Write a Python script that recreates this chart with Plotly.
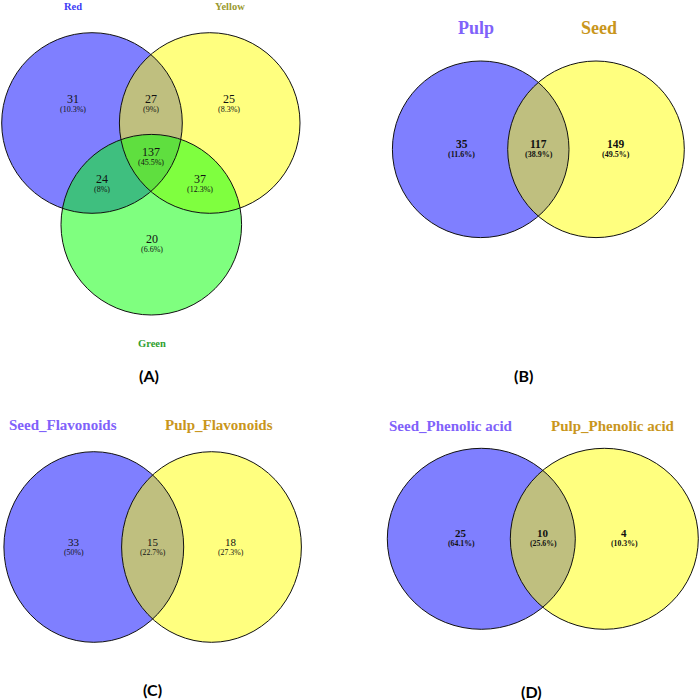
import plotly.graph_objects as go

# ---------------- DATA ----------------
# Panel A: three-set Venn (Red, Yellow, Green)
a_set_names = ["Red", "Yellow", "Green"]
a_region_counts = [31, 27, 25, 24, 137, 37, 20]   # R only, R∩Y, Y only, R∩G, all, Y∩G, G only
a_region_pcts = ["(10.3%)", "(9%)", "(8.3%)", "(8%)", "(45.5%)", "(12.3%)", "(6.6%)"]

# Panel B: Pulp vs Seed
b_set_names = ["Pulp", "Seed"]
b_region_counts = [35, 117, 149]
b_region_pcts = ["(11.6%)", "(38.9%)", "(49.5%)"]

# Panel C: Seed_Flavonoids vs Pulp_Flavonoids
c_set_names = ["Seed_Flavonoids", "Pulp_Flavonoids"]
c_region_counts = [33, 15, 18]
c_region_pcts = ["(50%)", "(22.7%)", "(27.3%)"]

# Panel D: Seed_Phenolic acid vs Pulp_Phenolic acid
d_set_names = ["Seed_Phenolic acid", "Pulp_Phenolic acid"]
d_region_counts = [25, 10, 4]
d_region_pcts = ["(64.1%)", "(25.6%)", "(10.3%)"]

panel_tags = ["(A)", "(B)", "(C)", "(D)"]

# ---------------- GEOMETRY / STYLE ----------------
FILL_BLUE = "rgba(0,0,255,0.5)"
FILL_YELLOW = "rgba(255,255,0,0.5)"
FILL_GREEN = "rgba(0,255,0,0.5)"
SERIF = "Liberation Serif, Times New Roman, serif"
SANS = "Lato, Open Sans, sans-serif"

panels = [
    dict(
        circles=[((92.0, 123.0), 90.3, 90.3, FILL_BLUE),
                 ((209.7, 123.0), 90.3, 90.3, FILL_YELLOW),
                 ((151.3, 224.7), 90.3, 90.3, FILL_GREEN)],
        names=a_set_names,
        name_pos=[(72.8, 6), (230, 6), (151.5, 343)],
        name_colors=["#3c3cf5", "#9a9a30", "#30a030"],
        name_size=10.5,
        counts=a_region_counts, pcts=a_region_pcts,
        region_pos=[(72.7, 99), (151, 99), (229.3, 99), (102, 179),
                    (151, 151.5), (200, 179), (151.7, 239.3)],
        count_size=12, count_bold=False, pct_size=8, pct_gap=10.5,
    ),
    dict(
        circles=[((480.7, 149.3), 88.3, 88.3, FILL_BLUE),
                 ((596.0, 149.3), 88.3, 88.3, FILL_YELLOW)],
        names=b_set_names,
        name_pos=[(475.7, 28.3), (599, 28.3)],
        name_colors=["#7f62fa", "#c9961c"],
        name_size=18,
        counts=b_region_counts, pcts=b_region_pcts,
        region_pos=[(461.7, 144), (538.7, 144), (615.7, 144)],
        count_size=11.5, count_bold=True, pct_size=8, pct_gap=10,
    ),
    dict(
        circles=[((93.8, 547.0), 89.9, 95.3, FILL_BLUE),
                 ((211.5, 547.0), 89.9, 95.3, FILL_YELLOW)],
        names=c_set_names,
        name_pos=[(62.7, 425), (219, 425)],
        name_colors=["#7f62fa", "#c9961c"],
        name_size=15,
        counts=c_region_counts, pcts=c_region_pcts,
        region_pos=[(74.3, 542.3), (152.7, 542.3), (231, 542.3)],
        count_size=11, count_bold=False, pct_size=7.8, pct_gap=10,
    ),
    dict(
        circles=[((481.3, 538.8), 94.0, 90.5, FILL_BLUE),
                 ((604.3, 538.8), 94.0, 90.5, FILL_YELLOW)],
        names=d_set_names,
        name_pos=[(450.7, 426), (613.3, 426)],
        name_colors=["#7f62fa", "#c9961c"],
        name_size=15,
        counts=d_region_counts, pcts=d_region_pcts,
        region_pos=[(461, 533.3), (543.3, 533.3), (624.3, 533.3)],
        count_size=11, count_bold=True, pct_size=7.8, pct_gap=10,
    ),
]
tag_pos = [(149, 375), (523, 375), (152.7, 689), (531.7, 691)]

fig = go.Figure()
shapes = []
annotations = []

for p in panels:
    # fills first
    for (cx, cy), rx, ry, col in p["circles"]:
        shapes.append(dict(type="circle", xref="x", yref="y",
                           x0=cx - rx, x1=cx + rx, y0=cy - ry, y1=cy + ry,
                           fillcolor=col, line=dict(width=0), layer="below"))
    # outlines on top
    for (cx, cy), rx, ry, col in p["circles"]:
        shapes.append(dict(type="circle", xref="x", yref="y",
                           x0=cx - rx, x1=cx + rx, y0=cy - ry, y1=cy + ry,
                           fillcolor="rgba(0,0,0,0)", line=dict(width=1, color="#111111"),
                           layer="above"))
    for name, (x, y), col in zip(p["names"], p["name_pos"], p["name_colors"]):
        annotations.append(dict(x=x, y=y, xref="x", yref="y", text="<b>%s</b>" % name,
                                showarrow=False, xanchor="center", yanchor="middle",
                                font=dict(family=SERIF, size=p["name_size"], color=col)))
    for cnt, pct, (x, y) in zip(p["counts"], p["pcts"], p["region_pos"]):
        t = "<b>%d</b>" % cnt if p["count_bold"] else "%d" % cnt
        annotations.append(dict(x=x, y=y, xref="x", yref="y", text=t,
                                showarrow=False, xanchor="center", yanchor="middle",
                                font=dict(family=SERIF, size=p["count_size"], color="#111111")))
        tp = "<b>%s</b>" % pct if p["count_bold"] else pct
        annotations.append(dict(x=x, y=y + p["pct_gap"], xref="x", yref="y", text=tp,
                                showarrow=False, xanchor="center", yanchor="middle",
                                font=dict(family=SERIF, size=p["pct_size"], color="#111111")))

for tag, (x, y) in zip(panel_tags, tag_pos):
    annotations.append(dict(x=x, y=y, xref="x", yref="y", text="<b>%s</b>" % tag,
                            showarrow=False, xanchor="center", yanchor="middle",
                            font=dict(family=SANS, size=16, color="#000000")))

fig.update_layout(
    width=700, height=700,
    margin=dict(l=0, r=0, t=0, b=0),
    paper_bgcolor="white", plot_bgcolor="white",
    xaxis=dict(range=[0, 700], visible=False, fixedrange=True),
    yaxis=dict(range=[700, 0], visible=False, fixedrange=True),
    shapes=shapes, annotations=annotations,
    showlegend=False,
)

fig.write_html(
    "out.html",
    config={"displayModeBar": False},
    post_script="document.body.style.margin='0';document.body.style.overflow='hidden';",
)
